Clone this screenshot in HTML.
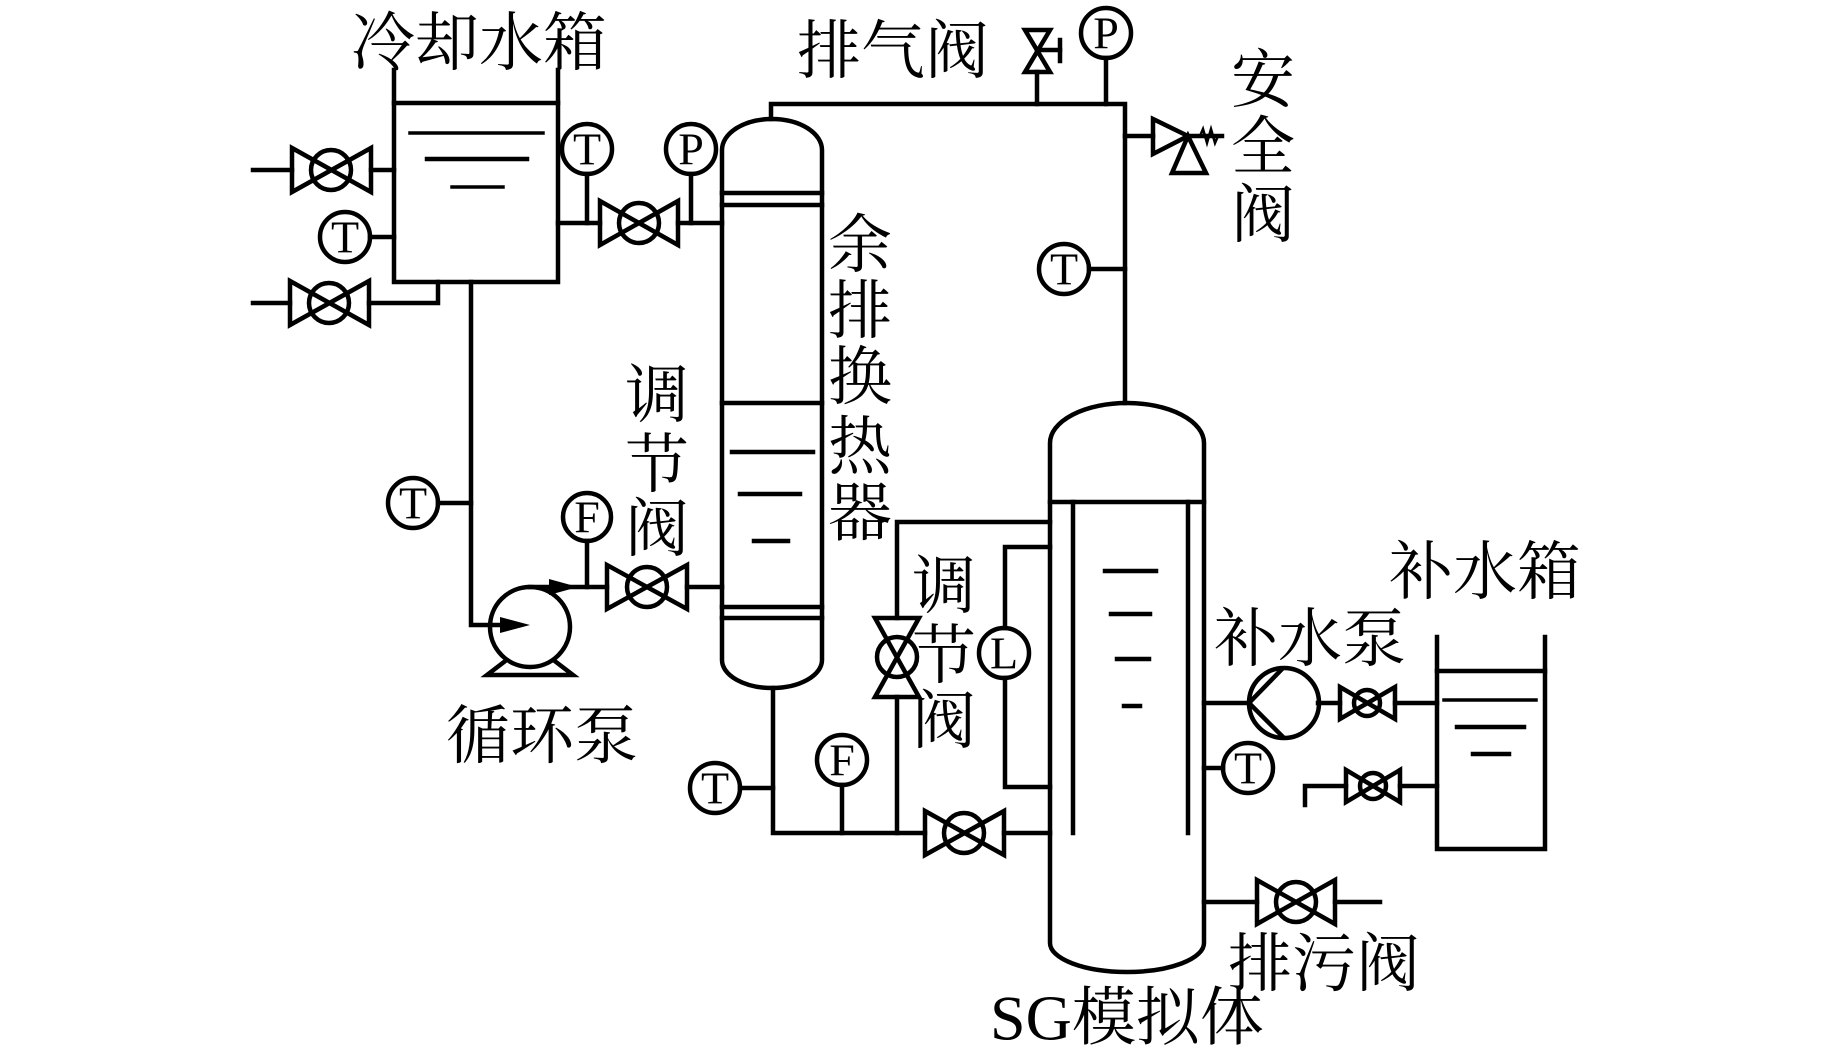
<!DOCTYPE html>
<html><head><meta charset="utf-8"><style>
html,body{margin:0;padding:0;background:#fff;}
svg{display:block;}
.c{font-family:"Noto Serif CJK SC","Liberation Serif",serif;font-size:64px;fill:#000;}
.s{font-family:"Liberation Serif",serif;font-size:46px;fill:#000;}
</style></head><body>
<svg width="1843" height="1056" viewBox="0 0 1843 1056" xmlns="http://www.w3.org/2000/svg">
<g fill="none" stroke="#000" stroke-width="4.5" stroke-linecap="square">
<!-- cooling tank -->
<polyline points="394,70 394,282 558,282 558,70"/>
<line x1="394" y1="103" x2="558" y2="103"/>
<line x1="410" y1="133" x2="543" y2="133" stroke-width="3.5"/>
<line x1="427" y1="159" x2="527" y2="159"/>
<line x1="452" y1="187" x2="503" y2="187" stroke-width="3.5"/>
<!-- left pipes -->
<line x1="253" y1="170" x2="292" y2="170"/>
<line x1="371" y1="170" x2="394" y2="170"/>
<line x1="370" y1="237" x2="394" y2="237"/>
<line x1="253" y1="303" x2="290" y2="303"/>
<polyline points="369,303 438,303 438,282"/>
<!-- tank outlet to pump -->
<polyline points="471,282 471,625 505,625"/>
<line x1="438" y1="503" x2="471" y2="503"/>
<circle cx="530" cy="627" r="40"/>
<polyline points="504,662 487,675 573,675 556,662"/>
<line x1="530" y1="587" x2="607" y2="587"/>
<line x1="587" y1="541" x2="587" y2="587"/>
<line x1="687" y1="587" x2="722" y2="587"/>
<!-- tank to exchanger -->
<line x1="558" y1="223" x2="600" y2="223"/>
<line x1="678" y1="223" x2="722" y2="223"/>
<line x1="587" y1="174" x2="587" y2="223"/>
<line x1="691" y1="174" x2="691" y2="223"/>
<!-- exchanger -->
<path d="M722,660 L722,150 A50,31 0 0 1 822,150 L822,660 A50,28 0 0 1 722,660 Z"/>
<line x1="722" y1="193" x2="822" y2="193"/>
<line x1="722" y1="205" x2="822" y2="205"/>
<line x1="722" y1="403" x2="822" y2="403"/>
<line x1="722" y1="607" x2="822" y2="607"/>
<line x1="722" y1="618" x2="822" y2="618"/>
<line x1="732" y1="452" x2="813" y2="452"/>
<line x1="740" y1="494" x2="800" y2="494"/>
<line x1="754" y1="541" x2="788" y2="541"/>
<!-- top pipe -->
<polyline points="771,119 771,104 1125,104 1125,403"/>
<line x1="1037" y1="72" x2="1037" y2="104"/>
<line x1="1106" y1="58" x2="1106" y2="104"/>
<line x1="1125" y1="136" x2="1153" y2="136"/>
<line x1="1089" y1="269" x2="1125" y2="269"/>
<!-- exhaust valve -->
<polygon points="1025,30 1050,30 1025,72 1050,72" stroke-linejoin="miter"/>
<line x1="1037" y1="50" x2="1060" y2="50"/>
<line x1="1060" y1="40" x2="1060" y2="61"/>
<!-- safety valve -->
<polygon points="1153,119 1153,154 1188,136"/>
<polygon points="1188,136 1172,173 1206,173"/>
<line x1="1188" y1="136" x2="1222" y2="136"/>
<polyline points="1200,136 1203,129 1207,143 1211,129 1215,143 1218,136" stroke-width="2.5"/>
<!-- exchanger bottom -->
<polyline points="773,688 773,833 925,833"/>
<line x1="1004" y1="833" x2="1050" y2="833"/>
<line x1="740" y1="788" x2="773" y2="788"/>
<line x1="842" y1="785" x2="842" y2="833"/>
<!-- loop with vertical valve -->
<polyline points="897,618 897,522 1050,522"/>
<line x1="897" y1="697" x2="897" y2="833"/>
<polygon points="875,618 919,618 875,697 919,697"/>
<circle cx="897" cy="657" r="20"/>
<!-- L loop -->
<polyline points="1005,628 1005,547 1050,547"/>
<polyline points="1005,678 1005,787 1050,787"/>
<!-- SG -->
<path d="M1050,943 L1050,443 A77,40 0 0 1 1204,443 L1204,943 A77,29 0 0 1 1050,943 Z"/>
<line x1="1050" y1="502" x2="1204" y2="502"/>
<line x1="1073" y1="502" x2="1073" y2="833"/>
<line x1="1188" y1="502" x2="1188" y2="833"/>
<line x1="1105" y1="571" x2="1156" y2="571"/>
<line x1="1111" y1="614" x2="1150" y2="614"/>
<line x1="1117" y1="659" x2="1149" y2="659"/>
<line x1="1124" y1="706" x2="1140" y2="706"/>
<!-- make-up pump -->
<line x1="1204" y1="703" x2="1249" y2="703"/>
<circle cx="1284" cy="703" r="35"/>
<line x1="1249" y1="703" x2="1282" y2="669"/>
<line x1="1249" y1="703" x2="1283" y2="737"/>
<line x1="1318" y1="703" x2="1340" y2="703"/>
<line x1="1395" y1="703" x2="1437" y2="703"/>
<line x1="1204" y1="768" x2="1223" y2="768"/>
<polyline points="1305,805 1305,786 1346,786"/>
<line x1="1400" y1="786" x2="1437" y2="786"/>
<!-- make-up tank -->
<polyline points="1437,637 1437,849 1545,849 1545,637"/>
<line x1="1437" y1="671" x2="1545" y2="671"/>
<line x1="1444" y1="700" x2="1536" y2="700" stroke-width="3.5"/>
<line x1="1457" y1="727" x2="1524" y2="727"/>
<line x1="1473" y1="754" x2="1509" y2="754"/>
<!-- drain -->
<line x1="1204" y1="902" x2="1257" y2="902"/>
<line x1="1335" y1="902" x2="1380" y2="902"/>
<!-- horizontal valves -->
<g>
<polygon points="292,148 292,192 371,148 371,192"/><circle cx="331" cy="170" r="20"/>
<polygon points="290,281 290,325 369,281 369,325"/><circle cx="329" cy="303" r="20"/>
<polygon points="600,201 600,245 678,201 678,245"/><circle cx="639" cy="223" r="20"/>
<polygon points="607,565 607,609 687,565 687,609"/><circle cx="647" cy="587" r="20"/>
<polygon points="925,811 925,855 1004,811 1004,855"/><circle cx="964" cy="833" r="20"/>
<polygon points="1257,880 1257,924 1335,880 1335,924"/><circle cx="1296" cy="902" r="20"/>
<polygon points="1340,687 1340,719 1395,687 1395,719"/><circle cx="1367" cy="703" r="13"/>
<polygon points="1346,770 1346,802 1400,770 1400,802"/><circle cx="1373" cy="786" r="13"/>
</g>
<!-- sensors -->
<circle cx="587" cy="149" r="25"/>
<circle cx="691" cy="149" r="25"/>
<circle cx="345" cy="237" r="25"/>
<circle cx="1106" cy="33" r="25"/>
<circle cx="1064" cy="269" r="25"/>
<circle cx="413" cy="503" r="25"/>
<circle cx="587" cy="517" r="24"/>
<circle cx="1004" cy="653" r="25"/>
<circle cx="715" cy="788" r="25"/>
<circle cx="842" cy="760" r="25"/>
<circle cx="1248" cy="768" r="25"/>
</g>
<!-- arrows -->
<polygon points="500,617 530,625 500,633" fill="#000"/>
<polygon points="549,579 578,587 549,595" fill="#000"/>
<!-- sensor letters -->
<g class="s" text-anchor="middle" dominant-baseline="central">
<text x="587" y="149">T</text>
<text x="691" y="149">P</text>
<text x="345" y="237">T</text>
<text x="1106" y="33">P</text>
<text x="1064" y="269">T</text>
<text x="413" y="503">T</text>
<text x="587" y="517">F</text>
<text x="1004" y="653">L</text>
<text x="715" y="788">T</text>
<text x="842" y="760">F</text>
<text x="1248" y="768">T</text>
</g>
<!-- labels -->
<g class="c" text-anchor="middle" dominant-baseline="central">
<text x="479" y="38">冷却水箱</text>
<text x="893" y="46">排气阀</text>
<text x="1263" y="75">安</text>
<text x="1263" y="142">全</text>
<text x="1263" y="210">阀</text>
<text x="860" y="240">余</text>
<text x="860" y="306">排</text>
<text x="860" y="372">换</text>
<text x="860" y="442">热</text>
<text x="860" y="508">器</text>
<text x="657" y="390">调</text>
<text x="657" y="460">节</text>
<text x="657" y="524">阀</text>
<text x="944" y="581">调</text>
<text x="944" y="651">节</text>
<text x="944" y="716">阀</text>
<text x="542" y="731">循环泵</text>
<text x="1310" y="634">补水泵</text>
<text x="1485" y="567">补水箱</text>
<text x="1324" y="959">排污阀</text>
</g>
<text x="990" y="1018" class="c" dominant-baseline="central" style="font-family:'Liberation Serif','Noto Serif CJK SC',serif">SG模拟体</text>
</svg>
</body></html>
